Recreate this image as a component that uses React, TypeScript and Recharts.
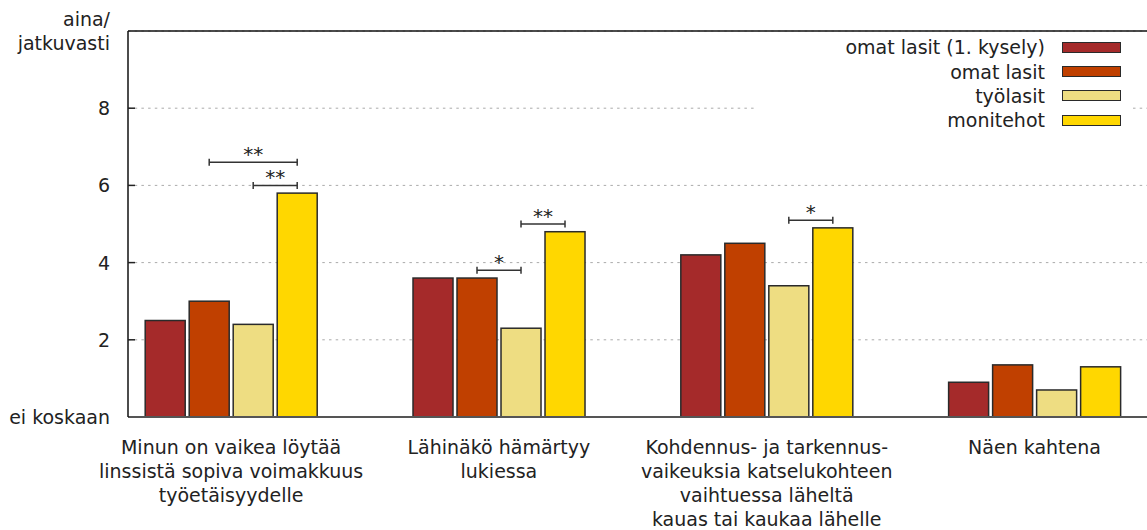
import React from "react";
import {
  BarChart,
  Bar,
  XAxis,
  YAxis,
  CartesianGrid,
  Legend,
  ReferenceLine
} from "recharts";

// question texts, one array of lines per group
const categories: string[][] = [
  ["Minun on vaikea löytää", "linssistä sopiva voimakkuus", "työetäisyydelle"],
  ["Lähinäkö hämärtyy", "lukiessa"],
  ["Kohdennus- ja tarkennus-", "vaikeuksia katselukohteen", "vaihtuessa läheltä", "kauas tai kaukaa lähelle"],
  ["Näen kahtena"]
];

const omatLasit1 = [2.5, 3.6, 4.2, 0.9];
const omatLasit = [3.0, 3.6, 4.5, 1.35];
const tyolasit = [2.4, 2.3, 3.4, 0.7];
const monitehot = [5.8, 4.8, 4.9, 1.3];

const yTicks = [0, 2, 4, 6, 8, 10];
const yTickLabels: Record<number, string[]> = {
  0: ["ei koskaan"],
  10: ["aina/", "jatkuvasti"]
};

// significance brackets: group, from bar, to bar, level, label
const brackets = [
  { group: 0, from: 1, to: 3, level: 6.6, label: "**" },
  { group: 0, from: 2, to: 3, level: 6.0, label: "**" },
  { group: 1, from: 1, to: 2, level: 3.8, label: "*" },
  { group: 1, from: 2, to: 3, level: 5.0, label: "**" },
  { group: 2, from: 2, to: 3, level: 5.1, label: "*" }
];

const series = [
  { key: "omat1", name: "omat lasit (1. kysely)", color: "#A52A2A", values: omatLasit1 },
  { key: "omat", name: "omat lasit", color: "#C04000", values: omatLasit },
  { key: "tyo", name: "työlasit", color: "#EEDD82", values: tyolasit },
  { key: "moni", name: "monitehot", color: "#FFD700", values: monitehot }
];

const data = categories.map((_, i) => {
  const row: any = { x: i };
  series.forEach(s => (row[s.key] = s.values[i]));
  return row;
});

const FONT = "'DejaVu Sans', sans-serif";
const BAR_GAP = 4;

const YTick = ({ x, y, payload }: any) => {
  const v = payload.value;
  const lines = yTickLabels[v] || [String(v)];
  const showMark = v !== 0 && v !== 10;
  return (
    <g>
      {lines.map((l, i) => (
        <text
          key={i}
          x={x}
          y={y + (i - (lines.length - 1) / 2) * 24}
          textAnchor="end"
          dominantBaseline="central"
          fontSize={19}
          fontFamily={FONT}
          fill="#222"
        >
          {l}
        </text>
      ))}
      {showMark && <line x1={x + 18} x2={x + 25} y1={y} y2={y} stroke="#222" strokeWidth={1.5} />}
    </g>
  );
};

const XTick = ({ x, y, payload }: any) => {
  const lines = categories[payload.value] || [];
  return (
    <g>
      {lines.map((l, i) => (
        <text
          key={i}
          x={x}
          y={y + 30 + i * 24}
          textAnchor="middle"
          dominantBaseline="central"
          fontSize={19}
          fontFamily={FONT}
          fill="#222"
        >
          {l}
        </text>
      ))}
    </g>
  );
};

const makeShape = (seriesIdx: number) => (props: any) => {
  const { x, y, width, height, fill, index } = props;
  const v = series[seriesIdx].values[index];
  const base = y + height;
  const pxPerUnit = v > 0 ? height / v : 0;
  const own = brackets.filter(b => b.group === index && b.to === seriesIdx);
  return (
    <g>
      <rect x={x} y={y} width={width} height={height} fill={fill} stroke="#2a2a2a" strokeWidth={1.5} />
      {own.map((b, i) => {
        const x2 = x + width / 2;
        const x1 = x2 - (b.to - b.from) * (width + BAR_GAP);
        const ly = base - b.level * pxPerUnit;
        return (
          <g key={i} stroke="#333" strokeWidth={1.5}>
            <line x1={x1} x2={x2} y1={ly} y2={ly} />
            <line x1={x1} x2={x1} y1={ly - 3.5} y2={ly + 3.5} />
            <line x1={x2} x2={x2} y1={ly - 3.5} y2={ly + 3.5} />
            <text
              x={(x1 + x2) / 2}
              y={ly - 1}
              textAnchor="middle"
              fontSize={20}
              fontFamily={FONT}
              fill="#222"
              stroke="none"
            >
              {b.label}
            </text>
          </g>
        );
      })}
    </g>
  );
};

const LegendContent = () => (
  <div style={{ background: "#fff", paddingTop: 2, fontFamily: FONT, fontSize: 19, color: "#222" }}>
    {series.map(s => (
      <div
        key={s.key}
        style={{ display: "flex", alignItems: "center", justifyContent: "flex-end", height: 24.4, paddingRight: 12 }}
      >
        <span style={{ marginRight: 17, lineHeight: "24px" }}>{s.name}</span>
        <span
          style={{
            display: "inline-block",
            width: 57,
            height: 9,
            background: s.color,
            border: "1.5px solid #2a2a2a"
          }}
        />
      </div>
    ))}
  </div>
);

export default function App() {
  return (
    <div style={{ position: "absolute", left: 0, top: 0, width: 1147, height: 530, background: "#fff" }}>
      <BarChart
        width={1147}
        height={530}
        data={data}
        margin={{ top: 31, right: 0, bottom: 83, left: 0 }}
        barSize={40}
        barGap={BAR_GAP}
      >
        <CartesianGrid vertical={false} stroke="#aaa" strokeDasharray="2.5 4.2" />
        <XAxis
          dataKey="x"
          type="number"
          domain={[-0.385, 3.42]}
          ticks={[0, 1, 2, 3]}
          allowDataOverflow
          interval={0}
          height={30}
          tickLine={false}
          tickSize={0}
          tickMargin={0}
          axisLine={{ stroke: "#555", strokeWidth: 2 }}
          tick={<XTick />}
        />
        <YAxis
          width={128}
          domain={[0, 10]}
          ticks={yTicks}
          interval={0}
          tickLine={false}
          tickSize={0}
          tickMargin={18}
          axisLine={{ stroke: "#111", strokeWidth: 1.5 }}
          tick={<YTick />}
        />
        <YAxis
          yAxisId="r"
          orientation="right"
          width={0}
          mirror
          domain={[0, 10]}
          ticks={[2, 4, 6, 8]}
          tick={false}
          tickSize={6}
          tickLine={{ stroke: "#222", strokeWidth: 1.5 }}
          axisLine={false}
        />
        <ReferenceLine y={10} stroke="#111" strokeWidth={1.5} />
        <Legend
          layout="vertical"
          align="center"
          verticalAlign="middle"
          wrapperStyle={{ top: 33, left: 757, width: 376 }}
          content={<LegendContent />}
        />
        {series.map((s, i) => (
          <Bar
            key={s.key}
            dataKey={s.key}
            name={s.name}
            fill={s.color}
            isAnimationActive={false}
            shape={makeShape(i)}
          />
        ))}
      </BarChart>
    </div>
  );
}
